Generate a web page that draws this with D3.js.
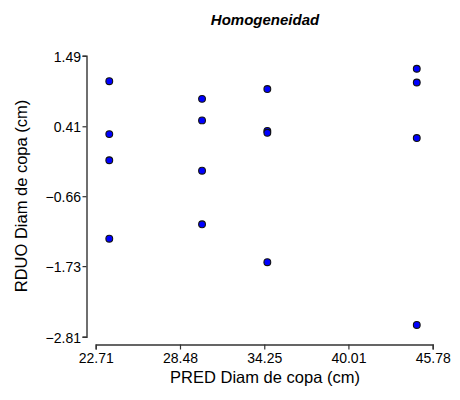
<!DOCTYPE html>
<html>
<head>
<meta charset="utf-8">
<script src="https://cdn.jsdelivr.net/npm/d3@7"></script>
<style>
  html, body { margin: 0; padding: 0; background: #fff; }
  svg text { font-family: "Liberation Sans", Arial, sans-serif; fill: #000; }
</style>
</head>
<body>
<svg id="chart" width="460" height="400"></svg>
<script>
// Residuals vs. predicted crown diameter
const predicted = [23.64, 23.64, 23.64, 23.64, 29.99, 29.99, 29.99, 29.99,
                   34.46, 34.46, 34.46, 34.46, 44.69, 44.69, 44.69, 44.69];
const residuals = [1.10, 0.29, -0.11, -1.31, 0.83, 0.50, -0.27, -1.09,
                   0.98, 0.34, 0.31, -1.67, 1.29, 1.08, 0.23, -2.63];
const xTicks = [22.71, 28.48, 34.25, 40.01, 45.78];
const yTicks = [1.49, 0.41, -0.66, -1.73, -2.81];

const title = "Homogeneidad";
const xTitle = "PRED Diam de copa (cm)";
const yTitle = "RDUO Diam de copa (cm)";

const svg = d3.select("#chart");

const x = d3.scaleLinear().domain([d3.min(xTicks), d3.max(xTicks)]).range([95.7, 432.7]);
const y = d3.scaleLinear().domain([d3.min(yTicks), d3.max(yTicks)]).range([336.7, 55.7]);

// detached axes
const xAxis = svg.append("g")
  .attr("transform", "translate(0,344.5)")
  .call(d3.axisBottom(x).tickValues(xTicks).tickFormat(d3.format(".2f")).tickSizeOuter(0).tickSize(5).tickPadding(4));
const yAxis = svg.append("g")
  .attr("transform", "translate(86.5,0)")
  .call(d3.axisLeft(y).tickValues(yTicks).tickFormat(d3.format(".2f")).tickSizeOuter(0).tickSize(4).tickPadding(1.5));

[xAxis, yAxis].forEach(g => {
  g.select(".domain").attr("stroke", "#333").attr("stroke-width", 1.4);
  g.selectAll(".tick line").attr("stroke", "#333").attr("stroke-width", 1.2);
  g.selectAll(".tick text")
    .attr("font-family", "Liberation Sans, Arial, sans-serif")
    .attr("font-size", 14).attr("fill", "#111");
});
yAxis.selectAll(".tick text").attr("dy", "0.4em");

// points
svg.append("g").selectAll("circle")
  .data(predicted.map((p, i) => ({ p, r: residuals[i] })))
  .join("circle")
  .attr("cx", d => x(d.p))
  .attr("cy", d => y(d.r))
  .attr("r", 3.4)
  .attr("fill", "#0000ff")
  .attr("stroke", "#111")
  .attr("stroke-width", 1.1);

// titles
svg.append("text")
  .attr("x", 265).attr("y", 25)
  .attr("text-anchor", "middle")
  .attr("font-size", 15).attr("font-weight", "bold").attr("font-style", "italic")
  .text(title);

svg.append("text")
  .attr("x", 265).attr("y", 383)
  .attr("text-anchor", "middle")
  .attr("font-size", 16.5)
  .attr("fill", "#111")
  .text(xTitle);

svg.append("text")
  .attr("transform", "translate(27,196) rotate(-90)")
  .attr("text-anchor", "middle")
  .attr("font-size", 16.5)
  .attr("fill", "#111")
  .text(yTitle);
</script>
</body>
</html>
